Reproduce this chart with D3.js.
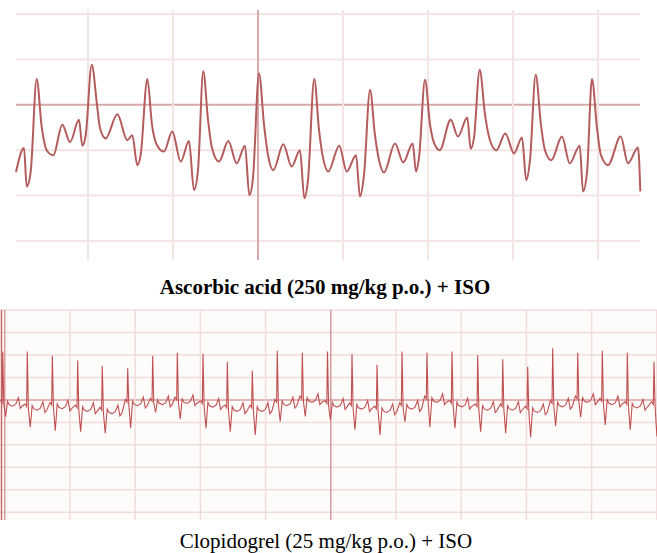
<!DOCTYPE html>
<html>
<head>
<meta charset="utf-8">
<script src="https://cdn.jsdelivr.net/npm/d3@7"></script>
<style>
  body { margin: 0; background: #fff; }
  svg { display: block; }
</style>
</head>
<body>
<div id="chart"></div>
<script>
// top tracing: Ascorbic acid + ISO (time in grid units, 10 per major cell; voltage in grid units)
var topTime = [1.53,2.47,2.79,3.26,
  3.96,4.55,5.14,5.92,6.98,7.88,8.94,9.33,9.73,
  10.44,11.06,11.41,12.08,13.45,14.62,15.21,15.8,16.2,
  16.98,17.53,18.12,18.94,19.92,20.91,21.88,22.47,22.94,
  23.56,24.12,24.59,25.41,26.51,27.49,28.47,28.98,29.41,
  30.12,30.71,31.18,31.8,32.98,33.96,34.94,35.45,35.88,
  36.62,37.18,37.65,38.27,39.56,40.44,41.53,42.0,42.47,
  43.18,43.76,44.24,44.82,46.12,47.09,48.2,48.59,48.94,
  49.65,50.24,50.71,51.38,52.67,53.53,54.62,55.02,55.41,
  56.08,56.71,57.29,58.04,59.09,60.12,61.06,61.56,62.0,
  62.67,63.29,63.76,64.51,65.76,66.67,67.85,68.24,68.71,
  69.29,69.88,70.35,71.18,72.67,73.53,74.71,74.98];
var topVolt = [15.2,20.5,12.0,15.3,
  35.7,25.2,20.0,18.9,25.6,21.8,26.7,21.0,23.3,
  38.8,30.0,24.9,22.6,27.9,22.2,23.3,16.7,19.0,
  35.7,25.6,21.1,19.7,24.1,17.5,22.0,11.2,15.6,
  37.4,26.7,20.5,17.5,22.0,17.1,21.0,10.1,13.9,
  36.9,25.6,18.9,15.6,21.3,16.4,20.0,9.4,13.4,
  35.7,24.4,18.3,15.3,21.0,15.3,18.9,9.8,14.5,
  33.3,23.3,17.8,15.1,21.5,17.3,21.5,15.3,18.3,
  35.5,25.6,21.6,20.0,26.7,23.0,27.2,20.3,22.7,
  37.7,27.8,22.2,20.0,23.7,19.3,22.8,13.4,17.8,
  36.6,25.6,20.0,17.8,23.0,17.1,21.0,10.9,15.2,
  35.7,24.9,18.9,16.7,23.0,17.1,20.6,10.9];
var topGridX = [10,20,30,40,50,60,70];
var topGridY = [0,10,20,30,40,50];
var topDark = 30;

// bottom tracing: Clopidogrel + ISO, one entry per beat
var botR = [-0.32,3.45,7.29,11.18,14.95,18.85,22.68,26.46,30.40,34.13,37.96,41.79,45.63,49.49,
  53.25,57.09,60.92,64.75,68.59,72.53,76.37,80.20,84.03,87.87,91.64,95.48,99.57];
var botTop = [21.5,21.5,19.6,17.5,15.1,14.1,19.6,21.0,20.5,17.0,13.0,21.9,21.0,21.5,
  20.5,15.6,21.5,21.0,21.5,20.0,18.1,14.8,23.0,21.0,21.9,21.0,17.0];
var botS = [-7.4,-12.1,-13.7,-14.1,-14.8,-12.6,-5.6,-8.6,-12.6,-14.1,-15.6,-9.7,-7.4,-8.9,
  -13.3,-15.6,-9.7,-12.1,-12.6,-14.1,-14.8,-16.6,-11.6,-7.7,-11.1,-13.3,-16.3];
var botBase = [-2.2,-4,-3.3,-4.5,-5.5,-2,-1.5,-1,-2.6,-4.5,-4.5,-2,-0.5,-2.6,
  -3.5,-5,-3.5,-0.5,-2.5,-4,-4,-5,-2.5,-0.5,-1.5,-3,-3];
// small waves between spikes (offset from R, height above baseline)
var waveDx = [0.75,1.0,1.5,2.0,2.4,2.7,3.0];
var waveDy = [1.5,0,-0.6,0.3,3.2,-1.6,-0.5];
var botGridX = [0,10,20,30,40,50,60,70,80,90,100];
var botGridY = [-50,-40,-30,-20,-10,0,10,20,30,40];
var botDarkX = [0,50];
var botDarkY = 0;

var titles = ["Ascorbic acid (250 mg/kg p.o.) + ISO", "Clopidogrel (25 mg/kg p.o.) + ISO"];

var width = 657, height = 553;
var svg = d3.select("#chart").append("svg")
    .attr("width", width)
    .attr("height", height);

// ---------- top panel ----------
var xTop = d3.scaleLinear().domain([0, 75]).range([3, 640.5]);
var yTop = d3.scaleLinear().domain([0, 50]).range([241, 14]);

var gTop = svg.append("g");
gTop.selectAll(".hgrid")
    .data(topGridY)
    .join("line")
    .attr("x1", 16).attr("x2", 640)
    .attr("y1", d => yTop(d)).attr("y2", d => yTop(d))
    .attr("stroke", d => d == topDark ? "#d9a9a9" : "#f4e4e4")
    .attr("stroke-width", 2);
gTop.selectAll(".vgrid")
    .data(topGridX)
    .join("line")
    .attr("x1", d => xTop(d)).attr("x2", d => xTop(d))
    .attr("y1", 10).attr("y2", 260)
    .attr("stroke", d => d == topDark ? "#d9a9a9" : "#f4e4e4")
    .attr("stroke-width", 2);

var topLine = d3.line()
    .x(d => xTop(d[0]))
    .y(d => yTop(d[1]))
    .curve(d3.curveMonotoneX);
gTop.append("path")
    .datum(d3.zip(topTime, topVolt))
    .attr("d", topLine)
    .attr("fill", "none")
    .attr("stroke", "#b45c5c")
    .attr("stroke-width", 2)
    .attr("stroke-linejoin", "round");

svg.append("text")
    .attr("x", 325).attr("y", 294)
    .attr("text-anchor", "middle")
    .style("font-family", "'Liberation Serif', 'Times New Roman', serif")
    .style("font-weight", "bold")
    .style("font-size", "21px")
    .text(titles[0]);

// ---------- bottom panel ----------
var xBot = d3.scaleLinear().domain([0, 100]).range([4.8, 656.8]);
var yBot = d3.scaleLinear().domain([-50, 40]).range([512.3, 310]);

var gBot = svg.append("g");
gBot.append("defs").append("clipPath").attr("id", "botclip")
    .append("rect").attr("x", 0).attr("y", 310).attr("width", 657).attr("height", 210);
gBot.append("rect")
    .attr("x", 0).attr("y", 310).attr("width", 657).attr("height", 210)
    .attr("fill", "#fefbfb");
gBot.selectAll(".hgrid")
    .data(botGridY)
    .join("line")
    .attr("x1", 0).attr("x2", 657)
    .attr("y1", d => yBot(d)).attr("y2", d => yBot(d))
    .attr("stroke", d => d == botDarkY ? "#e2b4b4" : "#f1dcdc")
    .attr("stroke-width", d => d == botDarkY ? 2 : 1.5);
gBot.selectAll(".vgrid")
    .data(botGridX)
    .join("line")
    .attr("x1", d => xBot(d)).attr("x2", d => xBot(d))
    .attr("y1", 310).attr("y2", 520)
    .attr("stroke", d => botDarkX.includes(d) ? "#cf8585" : "#f1dcdc")
    .attr("stroke-width", d => botDarkX.includes(d) ? 1.2 : 1.5);
gBot.append("line")
    .attr("x1", 1.5).attr("x2", 1.5).attr("y1", 310).attr("y2", 520)
    .attr("stroke", "#c46a6a").attr("stroke-width", 1.5);

var botPts = [];
botR.forEach(function (r, i) {
    var b = botBase[i];
    botPts.push([r - 0.35, b + 2.2]);
    botPts.push([r - 0.1, b + 1]);
    botPts.push([r, botTop[i]]);
    botPts.push([r + 0.17, b]);
    botPts.push([r + 0.45, botS[i]]);
    waveDx.forEach(function (dx, j) {
        botPts.push([r + dx, b + waveDy[j]]);
    });
});

var botLine = d3.line()
    .x(d => xBot(d[0]))
    .y(d => yBot(d[1]));
gBot.append("path")
    .datum(botPts)
    .attr("clip-path", "url(#botclip)")
    .attr("d", botLine)
    .attr("fill", "none")
    .attr("stroke", "#c05050")
    .attr("stroke-width", 1.1);

svg.append("text")
    .attr("x", 326).attr("y", 548)
    .attr("text-anchor", "middle")
    .style("font-family", "'Liberation Serif', 'Times New Roman', serif")
    .style("font-size", "21px")
    .text(titles[1]);
</script>
</body>
</html>
